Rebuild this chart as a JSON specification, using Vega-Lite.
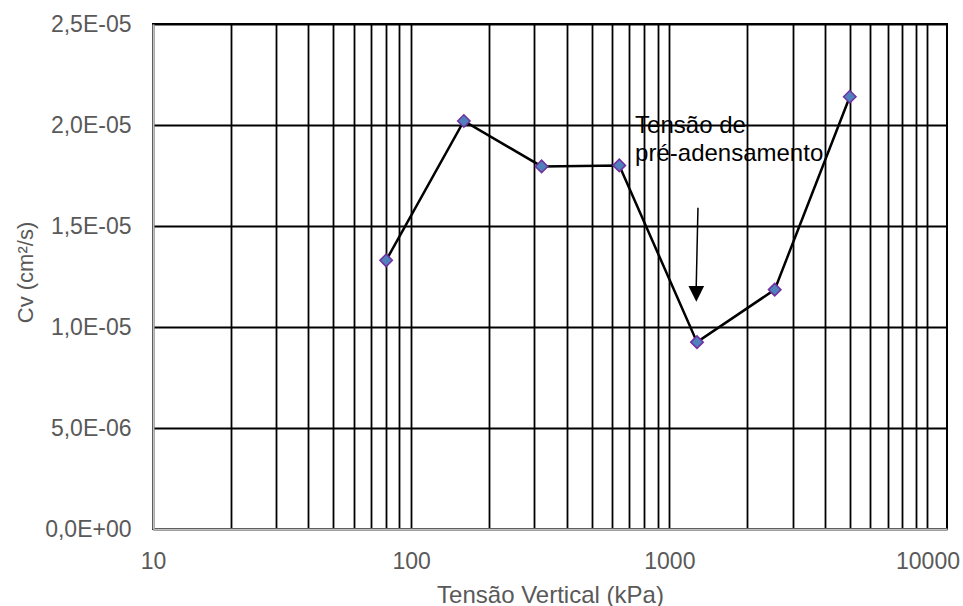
{
  "$schema": "https://vega.github.io/schema/vega-lite/v6.json",
  "width": 794,
  "height": 505,
  "autosize": {"type": "none"},
  "padding": {"left": 153, "top": 24, "right": 16, "bottom": 77},
  "background": "white",
  "config": {
    "view": {"stroke": "black", "strokeWidth": 2},
    "font": "Liberation Sans"
  },
  "datasets": {
    "cv": [
      {"tensao": 80, "cv": 1.33e-5},
      {"tensao": 160, "cv": 2.02e-5},
      {"tensao": 320, "cv": 1.795e-5},
      {"tensao": 640, "cv": 1.80e-5},
      {"tensao": 1280, "cv": 0.925e-5},
      {"tensao": 2560, "cv": 1.185e-5},
      {"tensao": 5000, "cv": 2.14e-5}
    ],
    "seta": [{"x": 1291, "y": 1.59e-5, "x2": 1270, "y2": 1.18e-5}],
    "ponta": [{"x": 1272, "y": 1.164e-5}],
    "nota": [{"x": 737, "y": 1.96e-5, "texto": ["Tensão de", "pré-adensamento"]}]
  },
  "layer": [
    {
      "data": {"name": "cv"},
      "mark": {"type": "line", "color": "black", "strokeWidth": 2.5},
      "encoding": {
        "x": {
          "field": "tensao",
          "type": "quantitative",
          "scale": {"type": "log", "domain": [10, 11900], "nice": false},
          "axis": {
            "values": [10, 20, 30, 40, 50, 60, 70, 80, 90, 100, 200, 300, 400, 500, 600, 700, 800, 900, 1000, 2000, 3000, 4000, 5000, 6000, 7000, 8000, 9000, 10000],
            "labelExpr": "datum.value == 10 || datum.value == 100 || datum.value == 1000 || datum.value == 10000 ? format(datum.value, 'd') : ''",
            "labelOverlap": false,
            "labelFlush": false,
            "labelBound": false,
            "grid": true,
            "gridColor": "black",
            "gridWidth": 1.8,
            "gridOpacity": 1,
            "ticks": false,
            "domainColor": "#bfbfbf",
            "domainWidth": 2,
            "labelFont": "Liberation Sans",
            "labelFontSize": 23,
            "labelColor": "#595959",
            "labelPadding": 21,
            "title": "Tensão Vertical (kPa)",
            "titleFont": "Liberation Sans",
            "titleFontSize": 24,
            "titleFontWeight": "normal",
            "titleColor": "#595959",
            "titleBaseline": "alphabetic",
            "titleY": 73
          }
        },
        "y": {
          "field": "cv",
          "type": "quantitative",
          "scale": {"domain": [0, 2.5e-5], "nice": false, "zero": false},
          "axis": {
            "values": [0, 5e-6, 1e-5, 1.5e-5, 2e-5, 2.5e-5],
            "labelExpr": "datum.value == 0 ? '0,0E+00' : datum.value < 9.9e-6 ? replace(format(datum.value * 1e6, '.1f'), '.', ',') + 'E-06' : replace(format(datum.value * 1e5, '.1f'), '.', ',') + 'E-05'",
            "grid": true,
            "gridColor": "black",
            "gridWidth": 1.8,
            "gridOpacity": 1,
            "ticks": false,
            "domainColor": "#bfbfbf",
            "domainWidth": 2,
            "labelFont": "Liberation Sans",
            "labelFontSize": 23,
            "labelColor": "#595959",
            "labelPadding": 22,
            "title": "Cv (cm²/s)",
            "titleFont": "Liberation Sans",
            "titleFontSize": 22,
            "titleFontWeight": "normal",
            "titleColor": "#595959",
            "titleBaseline": "alphabetic",
            "titleAlign": "center",
            "titleX": -121,
            "titleY": 248
          }
        }
      }
    },
    {
      "data": {"name": "cv"},
      "mark": {"type": "point", "shape": "diamond", "filled": true, "fill": "#4f81bd", "stroke": "#7030a0", "strokeWidth": 1.5, "size": 155, "opacity": 1},
      "encoding": {
        "x": {"field": "tensao", "type": "quantitative", "scale": {"type": "log", "domain": [10, 11900], "nice": false}},
        "y": {"field": "cv", "type": "quantitative", "scale": {"domain": [0, 2.5e-5], "nice": false, "zero": false}}
      }
    },
    {
      "data": {"name": "seta"},
      "mark": {"type": "rule", "color": "black", "strokeWidth": 1.5},
      "encoding": {
        "x": {"field": "x", "type": "quantitative", "scale": {"type": "log", "domain": [10, 11900], "nice": false}},
        "y": {"field": "y", "type": "quantitative", "scale": {"domain": [0, 2.5e-5], "nice": false, "zero": false}},
        "x2": {"field": "x2"},
        "y2": {"field": "y2"}
      }
    },
    {
      "data": {"name": "ponta"},
      "mark": {"type": "point", "shape": "M-1,-1L1,-1L0,1Z", "filled": true, "fill": "black", "strokeWidth": 0, "size": 246, "opacity": 1},
      "encoding": {
        "x": {"field": "x", "type": "quantitative", "scale": {"type": "log", "domain": [10, 11900], "nice": false}},
        "y": {"field": "y", "type": "quantitative", "scale": {"domain": [0, 2.5e-5], "nice": false, "zero": false}}
      }
    },
    {
      "data": {"name": "nota"},
      "mark": {"type": "text", "align": "left", "baseline": "alphabetic", "font": "Liberation Sans", "fontSize": 24, "lineHeight": 28, "color": "black"},
      "encoding": {
        "x": {"field": "x", "type": "quantitative", "scale": {"type": "log", "domain": [10, 11900], "nice": false}},
        "y": {"field": "y", "type": "quantitative", "scale": {"domain": [0, 2.5e-5], "nice": false, "zero": false}},
        "text": {"field": "texto"}
      }
    }
  ]
}
